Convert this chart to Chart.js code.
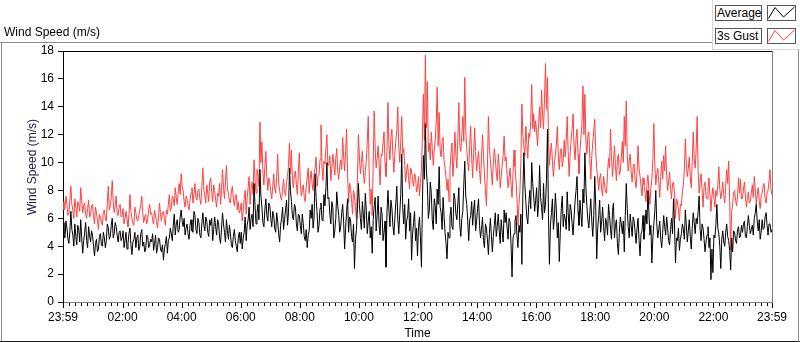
<!DOCTYPE html>
<html>
<head>
<meta charset="utf-8">
<title>Wind Speed (m/s)</title>
<script src="https://cdn.jsdelivr.net/npm/chart.js@4.4.1/dist/chart.umd.min.js"></script>
<style>
    html, body { margin: 0; padding: 0; background: #fff; }
    #panel {
        position: relative;
        width: 800px;
        height: 342px;
        overflow: hidden;
        font-family: "Liberation Sans", Arial, sans-serif;
        font-size: 12px;
        color: #000;
    }
    #windChart { position: absolute; left: 0; top: 0; }
    .line { position: absolute; }
    .title { position: absolute; left: 4px; top: 25px; white-space: nowrap; }
    .ytitle {
        position: absolute;
        left: 32px;
        top: 167px;
        transform: translate(-50%, -50%) rotate(-90deg);
        white-space: nowrap;
        color: #1a1a4d;
    }
    .leg-name {
        position: absolute;
        left: 715px;
        width: 44px;
        height: 14px;
        line-height: 14px;
        padding-left: 1px;
        border: 1px solid #555;
        background: #fff;
    }
    .leg-icon {
        position: absolute;
        left: 767px;
        width: 27px;
        height: 14px;
        border: 1px solid #555;
        background: #fff;
    }
    .leg-icon svg { position: absolute; left: 0; top: 0; }
</style>
</head>
<body>
<div id="panel">
    <canvas id="windChart" width="800" height="342"></canvas>

    <!-- cadre du graphe -->
    <div class="line" style="left:0;top:42px;width:712px;height:1px;background:#8c8c8c"></div>
    <div class="line" style="left:1px;top:42px;width:1px;height:300px;background:#8c8c8c"></div>
    <div class="line" style="left:0;top:341px;width:800px;height:1px;background:#1e1e1e"></div>
    <div class="line" style="left:798px;top:49px;width:1px;height:293px;background:#8c8c8c"></div>
    <div class="line" style="left:712px;top:0;width:1px;height:49px;background:#d4d4d4"></div>
    <div class="line" style="left:712px;top:49px;width:88px;height:1px;background:#d4d4d4"></div>

    <div class="title">Wind Speed (m/s)</div>
    <div class="ytitle">Wind Speed (m/s)</div>

    <!-- légende -->
    <div class="leg-name" style="top:5px">Average</div>
    <div class="leg-icon" style="top:5px">
        <svg width="27" height="14"><polyline points="0.5,12.5 7,1.5 15.5,11 26.5,1" fill="none" stroke="#000" stroke-width="1"/></svg>
    </div>
    <div class="leg-name" style="top:28px">3s Gust</div>
    <div class="leg-icon" style="top:28px">
        <svg width="27" height="14"><polyline points="0.5,12.5 7,1.5 15.5,11 26.5,1" fill="none" stroke="#ff4040" stroke-width="1"/></svg>
    </div>
</div>

<script>
// Un échantillon toutes les 2 minutes, de 23:59 à 23:59 (30 valeurs par heure)
const sampleStepMin = 2;

// Vent moyen (m/s)
const avgSpeed = [
    5.7,4.9, 4.6,5.8, 5.3,4.5, 4.2,5.1, 6.5,5.2, 4.8,4.0, 5.6,4.7, 4.1,5.5, 5.2,4.3, 5.9,4.6, 3.5,4.4, 5.0,5.7, 4.4,3.9, 5.4,4.8, 4.3,5.1,
    4.8,4.0, 3.3,4.2, 4.5,3.6, 3.8,4.7, 4.9,4.1, 4.0,5.0, 4.6,3.9, 4.4,5.6, 5.3,4.5, 4.7,5.5, 6.0,4.6, 4.9,5.7, 5.4,4.8, 4.3,5.0, 5.1,4.4,
    4.6,5.1, 3.9,4.4, 5.0,3.8, 4.2,4.9, 5.3,4.1, 3.4,4.3, 4.5,5.0, 3.9,4.6, 4.8,3.7, 4.0,4.9, 5.2,4.0, 4.3,3.6, 3.8,4.8, 4.7,3.9, 4.1,4.5,
    4.3,4.9, 3.7,4.2, 4.8,3.5, 3.9,4.6, 4.5,3.8, 3.6,4.1, 3.0,3.8, 4.2,4.7, 3.5,4.4, 4.6,5.3, 4.9,4.4, 5.5,6.3, 4.8,5.6, 5.9,5.0, 5.2,6.1,
    6.6,5.8, 5.4,6.0, 4.8,5.3, 5.6,4.9, 4.5,5.5, 5.9,5.1, 5.0,6.5, 6.2,5.2, 4.9,6.0, 5.7,4.8, 4.6,5.6, 6.4,5.5, 5.1,6.1, 5.8,5.0, 4.7,5.9,
    5.5,6.0, 4.4,5.2, 6.1,5.4, 4.8,5.9, 5.7,4.6, 4.2,5.3, 6.4,5.6, 5.0,4.3, 5.9,5.1, 4.5,5.5, 4.9,4.1, 3.9,4.7, 5.2,4.4, 4.0,3.6, 4.6,5.0,
    4.2,5.0, 3.8,4.6, 5.0,6.1, 4.4,5.5, 5.9,6.8, 5.2,6.0, 6.3,5.4, 8.5,6.9, 5.6,6.4, 7.0,5.9, 9.5,7.6, 6.8,5.7, 5.4,6.6, 7.4,6.2, 5.8,7.1,
    6.9,6.0, 5.4,6.5, 6.2,5.3, 5.0,6.4, 5.8,4.9, 4.3,5.5, 6.0,6.8, 5.2,5.9, 6.6,7.3, 5.5,6.4, 9.6,8.0, 7.2,6.1, 5.9,7.0, 6.8,5.6, 5.1,6.3,
    6.2,5.5, 4.9,6.3, 5.6,4.7, 4.4,5.2, 3.9,4.8, 5.1,6.6, 6.0,7.0, 5.3,6.1, 9.2,7.5, 6.4,5.0, 5.5,6.7, 7.1,5.9, 5.8,7.7, 6.9,8.2, 10.0,7.4,
    7.5,6.3, 5.6,7.2, 6.8,4.6, 5.1,6.0, 7.9,6.9, 6.2,5.0, 5.4,6.4, 7.0,5.7, 3.8,5.3, 6.5,7.4, 5.0,6.1, 5.9,4.7, 4.3,5.6, 2.4,4.5, 5.2,6.7,
    8.5,7.0, 6.0,5.2, 7.2,6.3, 5.3,7.8, 6.6,4.9, 5.8,6.5, 4.6,5.4, 3.5,5.9, 6.9,7.5, 5.1,6.2, 7.6,5.5, 4.8,6.8, 6.3,4.4, 5.0,5.8, 2.5,6.4,
    8.0,6.6, 5.4,7.3, 6.7,5.5, 4.8,6.0, 7.1,8.3, 5.9,4.9, 6.4,7.7, 10.6,6.8, 5.6,7.0, 4.5,5.8, 6.2,7.4, 5.1,6.4, 3.0,4.9, 5.7,6.5, 4.4,5.3,
    3.3,5.4, 6.1,4.6, 2.5,7.2, 10.5,8.8, 12.8,9.4, 8.4,6.0, 6.6,8.6, 7.8,5.9, 5.2,7.4, 6.9,5.6, 8.1,7.0, 9.7,6.8, 6.4,5.2, 7.5,6.1, 5.0,4.2,
    3.1,5.0, 4.6,6.1, 6.8,5.4, 5.2,7.8, 7.4,6.3, 5.9,7.1, 8.2,5.5, 4.7,6.0, 6.5,8.4, 10.1,7.6, 7.0,5.8, 4.4,5.9, 6.2,7.2, 5.5,6.6, 7.3,5.1,
    5.8,6.7, 7.4,5.5, 4.6,5.2, 6.1,4.4, 3.9,5.6, 5.3,4.5, 3.4,4.9, 6.0,4.8, 3.6,4.7, 5.5,6.4, 4.7,5.4, 6.3,5.1, 4.2,5.9, 5.0,4.3, 6.6,5.7,
    6.4,5.3, 4.5,6.0, 5.7,4.1, 1.8,4.6, 4.9,5.8, 6.2,4.8, 3.9,5.5, 5.0,6.3, 2.7,7.9, 10.7,8.4, 7.2,6.1, 5.6,7.0, 8.0,6.7, 10.0,8.5, 7.6,6.5,
    7.3,8.2, 6.1,7.0, 9.8,7.5, 6.8,5.9, 8.5,6.4, 7.0,8.8, 12.4,6.2, 2.7,5.5, 6.4,7.4, 5.2,6.0, 7.8,6.6, 4.6,5.7, 2.9,5.0, 6.7,7.6, 5.4,6.3,
    6.0,5.2, 7.9,6.4, 5.1,7.0, 6.6,5.6, 4.8,6.1, 7.2,8.0, 9.0,6.5, 5.5,7.3, 6.3,5.4, 8.1,7.1, 10.7,8.2, 6.9,5.9, 5.3,6.4, 7.4,5.8, 4.7,6.2,
    9.0,6.8, 3.1,5.3, 6.2,7.3, 5.0,5.8, 6.8,5.4, 4.4,6.0, 5.7,4.8, 7.0,6.2, 5.2,4.5, 6.5,7.1, 4.6,5.5, 5.9,4.2, 3.4,5.0, 6.1,5.6, 4.9,5.8,
    3.6,6.2, 8.5,6.7, 5.4,4.6, 6.3,5.5, 4.7,6.1, 5.8,5.0, 4.2,5.3, 6.0,4.4, 3.3,4.9, 5.1,6.2, 4.5,5.4, 6.6,5.6, 8.0,6.4, 4.8,5.5, 2.8,4.6,
    5.6,6.5, 8.0,5.6, 4.6,5.2, 5.8,4.5, 3.9,5.0, 6.2,5.4, 4.8,6.1, 5.3,4.4, 4.1,5.2, 6.0,4.9, 7.4,5.6, 2.8,4.6, 4.4,5.3, 3.7,4.5, 4.9,5.6,
    5.2,4.5, 6.6,5.5, 4.3,5.1, 5.9,4.7, 3.8,5.3, 6.4,5.7, 4.9,6.0, 5.6,6.5, 7.6,5.2, 4.4,5.6, 5.3,4.5, 3.6,4.3, 4.8,5.4, 3.9,4.6, 1.6,3.8,
    2.1,4.8, 4.6,5.5, 7.0,5.3, 4.9,4.0, 2.4,4.5, 5.1,4.3, 4.0,5.0, 5.6,4.7, 4.4,3.7, 2.3,4.6, 3.6,5.1, 5.0,4.4, 4.2,5.2, 5.4,4.6, 4.7,5.5,
    5.0,5.6, 5.8,4.7, 4.6,5.4, 6.2,5.5, 4.9,5.2, 5.5,4.8, 6.0,6.4, 7.0,5.8, 5.1,5.9, 4.5,5.0, 5.9,5.2, 5.3,6.1, 6.4,5.5, 4.8,5.6, 5.6,5.0,
    5.2
];

// Rafales sur 3 s (m/s)
const gustSpeed = [
    7.2,6.6, 6.8,7.6, 7.0,6.2, 6.3,7.4, 8.3,7.0, 6.6,6.0, 7.4,6.8, 6.1,7.2, 7.0,6.5, 8.2,7.3, 6.4,6.9, 7.1,6.3, 6.0,6.7, 7.3,6.1, 6.2,6.9,
    7.0,6.2, 5.6,6.8, 6.4,5.9, 5.2,6.3, 6.1,5.7, 5.5,6.5, 6.6,6.0, 5.8,7.1, 8.3,6.6, 6.9,7.5, 8.7,7.2, 6.4,6.9, 7.6,6.3, 6.2,6.8, 7.0,6.1,
    6.2,6.7, 5.6,6.0, 6.5,5.9, 5.4,6.3, 7.7,6.5, 6.0,5.6, 5.5,6.8, 6.4,5.9, 5.8,6.2, 6.6,7.0, 7.6,6.4, 5.7,6.1, 6.3,5.6, 5.9,6.6, 7.0,6.3,
    6.4,5.9, 5.6,6.6, 6.2,5.7, 5.3,6.1, 7.1,6.3, 5.8,6.4, 6.5,5.9, 5.5,6.6, 6.3,7.0, 7.7,6.5, 6.8,7.6, 7.4,6.9, 8.2,7.5, 7.0,7.9, 8.5,7.7,
    9.2,8.3, 8.0,7.2, 6.8,7.6, 7.4,6.9, 6.6,7.3, 7.8,8.2, 7.1,7.7, 8.5,7.5, 7.3,8.0, 8.1,7.4, 7.0,8.3, 9.6,8.1, 7.6,7.1, 8.4,7.8, 7.2,8.6,
    8.9,7.9, 7.2,8.4, 8.0,7.3, 6.8,7.8, 7.6,8.5, 7.0,8.0, 9.5,8.2, 7.4,8.7, 9.8,8.1, 7.8,7.2, 7.1,7.9, 8.3,7.4, 6.9,7.6, 7.7,6.6, 7.2,6.4,
    6.6,7.1, 5.8,6.6, 7.4,8.0, 6.3,7.5, 8.2,9.0, 7.0,8.1, 8.6,7.7, 10.2,8.8, 7.8,9.5, 9.1,8.3, 12.9,10.0, 11.5,9.3, 8.4,9.7, 10.8,9.0, 8.0,8.9,
    8.6,7.9, 7.4,8.3, 9.2,8.1, 7.8,9.0, 10.6,8.5, 8.0,7.5, 7.3,8.2, 8.8,7.9, 7.6,8.6, 9.0,9.8, 11.4,9.2, 10.9,8.7, 8.2,9.1, 9.4,8.4, 7.7,9.3,
    10.7,8.6, 7.6,8.1, 8.4,7.5, 7.2,8.3, 8.9,9.6, 7.8,8.8, 9.4,8.5, 8.0,9.2, 9.6,10.4, 8.3,9.0, 9.1,10.2, 12.7,9.7, 8.7,10.1, 9.9,11.0, 12.0,9.8,
    9.8,10.5, 8.7,9.6, 10.6,9.9, 9.1,10.3, 11.0,9.3, 8.8,9.7, 10.2,9.5, 11.8,10.4, 9.4,10.8, 12.4,9.2, 7.1,8.5, 8.2,7.4, 6.3,8.0, 7.6,6.8, 5.9,8.8,
    12.0,10.4, 9.2,10.0, 10.8,9.5, 8.5,9.4, 10.1,11.5, 13.3,9.0, 7.0,8.1, 6.2,9.8, 13.7,11.0, 9.6,10.3, 11.2,9.9, 8.4,10.6, 10.5,11.4, 12.2,10.0, 9.0,10.9,
    14.3,11.3, 10.2,11.8, 12.4,10.5, 9.3,10.6, 11.6,12.3, 14.0,11.1, 10.0,11.5, 13.3,10.6, 11.0,9.8, 8.6,9.4, 9.9,8.8, 8.1,9.6, 9.4,8.7, 8.3,9.2, 9.0,7.9,
    8.2,9.0, 7.6,8.5, 9.5,12.0, 14.9,11.6, 17.7,12.5, 15.8,10.8, 11.4,10.2, 12.2,11.0, 9.8,10.9, 11.6,12.8, 15.4,11.2, 13.6,10.9, 10.4,11.5, 11.8,10.1, 9.6,8.9,
    8.0,8.8, 7.2,9.5, 10.6,11.4, 9.0,10.2, 12.2,10.5, 9.6,11.8, 14.3,11.2, 10.8,12.0, 13.3,11.5, 16.1,12.3, 11.0,10.0, 9.4,11.3, 12.6,10.4, 8.9,10.7, 12.5,10.8,
    9.4,10.1, 10.8,9.5, 8.5,10.4, 12.0,10.6, 9.1,8.0, 6.9,9.6, 13.3,11.1, 10.2,9.3, 8.4,9.9, 11.0,10.3, 9.3,8.7, 10.6,9.7, 8.2,9.0, 9.8,10.5, 11.9,10.1,
    10.4,9.1, 8.2,8.9, 9.6,8.4, 7.5,9.2, 10.9,9.7, 8.8,7.4, 5.5,7.0, 7.9,10.1, 14.2,12.0, 11.2,10.5, 12.6,11.4, 10.3,12.1, 11.8,13.0, 15.6,12.4, 13.5,12.2,
    13.0,12.1, 11.2,12.8, 14.0,12.5, 15.2,13.4, 12.4,14.6, 17.1,13.8, 16.1,11.9, 9.8,10.7, 11.4,10.1, 9.0,9.9, 10.6,11.3, 12.6,10.4, 9.5,10.8, 11.0,9.7, 10.2,11.6,
    10.4,11.5, 13.3,10.8, 9.0,10.6, 11.6,12.4, 13.5,11.1, 10.2,11.7, 12.4,10.6, 9.2,10.9, 11.8,12.8, 15.5,12.0, 14.9,11.5, 10.6,11.9, 12.2,10.3, 8.8,10.5, 11.4,12.3,
    13.1,10.8, 9.6,8.8, 8.0,8.9, 9.2,8.1, 7.6,9.0, 8.4,7.9, 7.8,9.3, 10.3,9.6, 12.4,10.5, 9.0,10.0, 11.2,9.8, 8.7,10.2, 10.6,9.1, 9.4,10.4, 11.5,10.0,
    13.3,11.2, 14.4,10.5, 9.4,10.1, 10.6,9.3, 8.6,9.7, 9.9,8.7, 8.2,9.4, 11.2,9.6, 9.0,8.3, 7.6,8.9, 8.4,7.9, 7.2,8.5, 9.1,8.0, 7.0,8.2, 8.8,10.2,
    12.8,9.8, 8.4,9.2, 9.6,8.6, 7.5,9.0, 10.1,8.8, 10.5,9.4, 11.2,9.1, 8.0,8.7, 9.3,8.2, 7.4,8.5, 8.6,7.8, 6.0,7.4, 7.2,6.6, 5.8,7.0, 6.9,7.9,
    8.4,9.5, 11.7,9.9, 9.0,9.6, 10.4,8.9, 8.2,10.0, 12.2,10.3, 9.6,10.9, 13.3,9.4, 7.8,8.6, 9.2,8.0, 6.8,8.3, 8.6,7.6, 7.4,8.1, 8.9,7.7, 6.5,7.6,
    8.2,7.5, 6.8,8.0, 7.6,8.4, 9.7,8.1, 7.4,7.9, 8.6,7.7, 7.1,8.3, 9.5,8.5, 10.1,7.2, 3.7,6.5, 7.0,7.8, 8.0,7.3, 6.9,7.6, 8.9,7.8, 8.8,7.4,
    7.4,8.1, 8.6,7.6, 6.8,7.4, 7.9,7.1, 7.2,7.8, 8.4,7.5, 9.0,8.1, 7.0,7.7, 8.2,7.3, 6.7,7.6, 7.8,8.3, 8.5,7.4, 7.1,7.8, 8.0,8.7, 9.5,8.0,
    7.7
];

// Graduations de l'axe du temps (minutes depuis 23:59)
const tickMinutes = [0, 121, 241, 361, 481, 601, 721, 841, 961, 1081, 1201, 1321, 1440];
const tickLabels = ['23:59', '02:00', '04:00', '06:00', '08:00', '10:00', '12:00',
                    '14:00', '16:00', '18:00', '20:00', '22:00', '23:59'];
const minorStepMin = 12;

const speedMin = 0;
const speedMax = 18;
const speedStep = 2;

const fontUI = { family: '"Liberation Sans", Arial, sans-serif', size: 12 };

// petites graduations toutes les 12 minutes
const minorTicks = [];
for (let m = 1 + minorStepMin; m < 1440; m += minorStepMin) {
    if (!tickMinutes.includes(m)) minorTicks.push(m);
}

const toPoints = (values) => values.map((v, i) => ({ x: i * sampleStepMin, y: v }));

// Graduations X + cadre haut/droite
const framePlugin = {
    id: 'labviewFrame',
    afterDraw(chart) {
        const { ctx, chartArea, scales } = chart;
        const xs = scales.x;
        ctx.save();
        ctx.lineWidth = 1;
        ctx.strokeStyle = '#000';
        ctx.beginPath();
        minorTicks.forEach(m => {
            const px = Math.round(xs.getPixelForValue(m)) + 0.5;
            ctx.moveTo(px, chartArea.bottom + 1);
            ctx.lineTo(px, chartArea.bottom + 4);
        });
        tickMinutes.forEach(m => {
            const px = Math.round(xs.getPixelForValue(m)) + 0.5;
            ctx.moveTo(px, chartArea.bottom + 1);
            ctx.lineTo(px, chartArea.bottom + 6);
        });
        ctx.stroke();

        ctx.beginPath();
        ctx.moveTo(chartArea.left, chartArea.top + 0.5);
        ctx.lineTo(chartArea.right, chartArea.top + 0.5);
        ctx.stroke();

        ctx.strokeStyle = '#808080';
        ctx.beginPath();
        ctx.moveTo(chartArea.right + 0.5, chartArea.top);
        ctx.lineTo(chartArea.right + 0.5, chartArea.bottom + 1);
        ctx.stroke();
        ctx.restore();
    }
};

document.addEventListener('DOMContentLoaded', function() {
    if (typeof Chart === 'undefined') {
        console.error('Chart.js n\'est pas chargé.');
        return;
    }
    new Chart(document.getElementById('windChart'), {
        type: 'line',
        data: {
            datasets: [
                {
                    label: 'Average',
                    data: toPoints(avgSpeed),
                    borderColor: '#000000',
                    borderWidth: 1,
                    pointRadius: 0,
                    tension: 0
                },
                {
                    label: '3s Gust',
                    data: toPoints(gustSpeed),
                    borderColor: '#ff4040',
                    borderWidth: 1,
                    pointRadius: 0,
                    tension: 0
                }
            ]
        },
        options: {
            responsive: false,
            animation: false,
            devicePixelRatio: 1,
            layout: { padding: { top: 51, right: 28, left: 0, bottom: 0 } },
            plugins: {
                legend: { display: false },
                tooltip: { enabled: false }
            },
            scales: {
                x: {
                    type: 'linear',
                    min: 0,
                    max: 1440,
                    afterBuildTicks: (scale) => {
                        scale.ticks = tickMinutes.map(v => ({ value: v }));
                    },
                    afterFit: (scale) => { scale.height = 40; },
                    ticks: {
                        autoSkip: false,
                        maxRotation: 0,
                        padding: 8,
                        color: '#000',
                        font: fontUI,
                        callback: (value) => {
                            const i = tickMinutes.indexOf(value);
                            return i >= 0 ? tickLabels[i] : '';
                        }
                    },
                    grid: { drawOnChartArea: false, drawTicks: false },
                    border: { color: '#808080', width: 1 },
                    title: {
                        display: true,
                        text: 'Time',
                        color: '#000',
                        font: fontUI,
                        padding: { top: 0, bottom: 1 }
                    }
                },
                y: {
                    min: speedMin,
                    max: speedMax,
                    afterFit: (scale) => { scale.width = 63; },
                    ticks: {
                        stepSize: speedStep,
                        padding: 4,
                        color: '#000',
                        font: fontUI
                    },
                    grid: { drawOnChartArea: false, drawTicks: true, tickLength: 5, color: '#000' },
                    border: { color: '#000', width: 1 }
                }
            }
        },
        plugins: [framePlugin]
    });
});
</script>
</body>
</html>
